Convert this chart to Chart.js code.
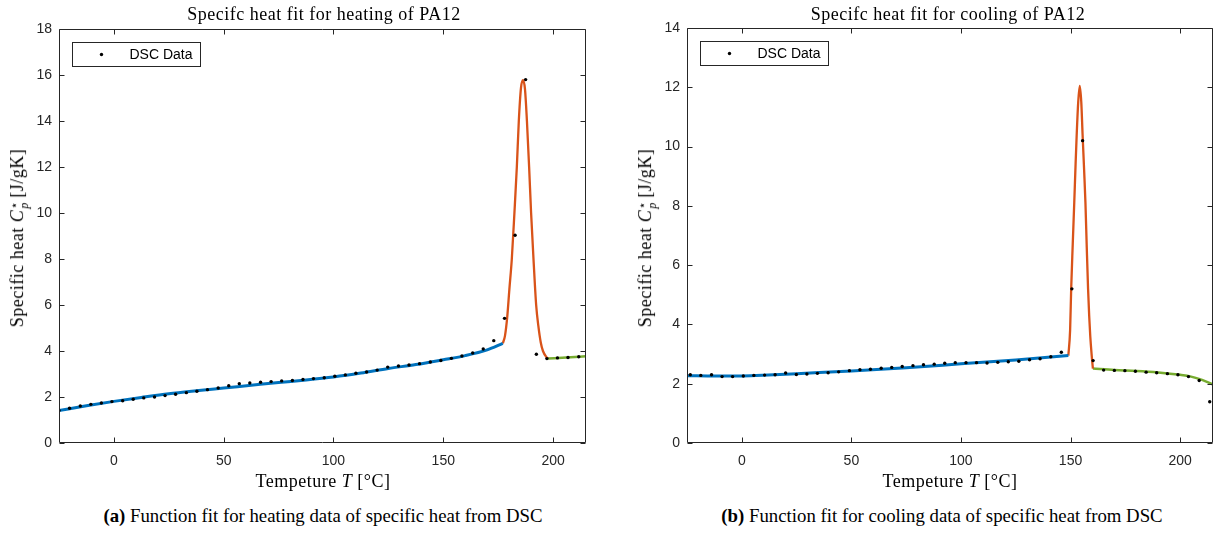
<!DOCTYPE html>
<html>
<head>
<meta charset="utf-8">
<script src="https://cdn.jsdelivr.net/npm/chart.js@4.4.0/dist/chart.umd.min.js"></script>
<style>
  body { margin:0; width:1217px; height:533px; position:relative; background:#fff; overflow:hidden; }
  .panel { position:absolute; top:0; height:500px; }
  .ttl, .xlab, .ylab { position:absolute; font-family:"Liberation Serif", "DejaVu Serif", serif; font-size:18px; letter-spacing:0.5px; color:#000; white-space:nowrap; transform:translate(-50%,-50%); }
  .ylab { transform:translate(-50%,-50%) rotate(-90deg); }
  .ss { display:inline-flex; flex-direction:column; vertical-align:middle; font-size:12px; line-height:10px; margin-left:1px; margin-right:3px; letter-spacing:0; }
  .ss .sub { font-style:italic; }
  .cap { position:absolute; top:516px; font-family:"Liberation Serif", "Times New Roman", serif; font-size:18.8px; color:#000; white-space:nowrap; transform:translate(-50%,-50%); }
</style>
</head>
<body>
<div class="panel" style="left:0;width:600px"><canvas id="heatChart" width="600" height="500"></canvas></div>
<div class="panel" style="left:610px;width:607px"><canvas id="coolChart" width="607" height="500"></canvas></div>

<div class="ttl" style="left:324px;top:14px">Specifc heat fit for heating of PA12</div>
<div class="ttl" style="left:948px;top:14px">Specifc heat fit for cooling of PA12</div>
<div class="xlab" style="left:323px;top:481px">Tempeture <i>T</i> [°C]</div>
<div class="xlab" style="left:950px;top:481px">Tempeture <i>T</i> [°C]</div>
<div class="ylab" style="left:18px;top:238px">Specific heat <i>C</i><span class="ss"><span>⋆</span><span class="sub">p</span></span>[J/gK]</div>
<div class="ylab" style="left:646px;top:238px">Specific heat <i>C</i><span class="ss"><span>⋆</span><span class="sub">p</span></span>[J/gK]</div>
<div class="cap" style="left:323px"><b>(a)</b> Function fit for heating data of specific heat from DSC</div>
<div class="cap" style="left:942px"><b>(b)</b> Function fit for cooling data of specific heat from DSC</div>

<script>
// ---- data ----
// Heating: DSC measurements
const heatT = [-25.0, -20.2, -15.3, -10.5, -5.7, -0.9, 4.0, 8.8, 13.6, 18.5, 23.3, 28.1, 33.0, 37.8, 42.6,
  47.5, 52.3, 57.1, 61.9, 66.8, 71.6, 76.4, 81.3, 86.1, 90.9, 95.8, 100.6, 105.4, 110.2, 115.1, 119.9,
  124.7, 129.6, 134.4, 139.2, 144.1, 148.9, 153.7, 158.5, 163.4, 168.2, 173.0, 177.9, 182.7, 187.5,
  192.4, 197.2, 202.0, 206.8, 211.7];
const heatCp = [1.41, 1.51, 1.61, 1.68, 1.74, 1.80, 1.84, 1.90, 1.96, 2.00, 2.06, 2.12, 2.19, 2.25, 2.32,
  2.39, 2.49, 2.58, 2.61, 2.64, 2.67, 2.70, 2.72, 2.76, 2.80, 2.84, 2.90, 2.96, 3.03, 3.09, 3.17,
  3.30, 3.35, 3.39, 3.45, 3.52, 3.59, 3.68, 3.78, 3.91, 4.09, 4.45, 5.42, 9.03, 15.80,
  3.86, 3.67, 3.70, 3.72, 3.75];
// Heating: fitted pieces
const heatFitLowT  = [-25, -12.5, 0, 12.5, 25, 37.5, 50, 62.5, 75, 87.5, 100, 112.5, 125, 137.5, 150, 160, 170, 177.1];
const heatFitLowCp = [1.41, 1.62, 1.81, 1.98, 2.14, 2.27, 2.39, 2.51, 2.63, 2.74, 2.87, 3.04, 3.24, 3.41, 3.62, 3.80, 4.05, 4.33];
const heatPeakT  = [177.1, 178.1, 179.1, 180.1, 181.2, 182.4, 183.5, 184.4, 185.4, 186.3, 187.2, 188.1, 189.1, 190.0, 191.1, 192.3, 193.3, 194.4, 195.4, 197.1, 197.7];
const heatPeakCp = [4.33, 4.66, 5.45, 6.68, 7.98, 10.0, 12.0, 14.0, 15.45, 15.78, 15.4, 14.0, 12.0, 10.0, 7.98, 6.0, 5.09, 4.37, 4.0, 3.72, 3.67];
const heatFitHighT  = [197.7, 206, 215];
const heatFitHighCp = [3.67, 3.72, 3.77];

// Cooling: DSC measurements
const coolT = [-23.5, -18.7, -13.8, -9.0, -4.2, 0.7, 5.5, 10.4, 15.2, 20.0, 24.9, 29.7, 34.5, 39.4, 44.2,
  49.1, 53.9, 58.7, 63.6, 68.4, 73.2, 78.1, 82.9, 87.8, 92.6, 97.4, 102.3, 107.1, 111.9, 116.8, 121.6,
  126.4, 131.3, 136.1, 141.0, 145.8, 150.6, 155.5, 160.3, 165.1, 170.0, 174.8, 179.6, 184.5, 189.3,
  194.2, 199.0, 203.8, 208.7, 213.5];
const coolCp = [2.30, 2.28, 2.30, 2.24, 2.24, 2.26, 2.28, 2.29, 2.30, 2.36, 2.31, 2.33, 2.35, 2.37, 2.40,
  2.44, 2.47, 2.49, 2.52, 2.55, 2.58, 2.61, 2.64, 2.66, 2.69, 2.71, 2.71, 2.71, 2.70, 2.72, 2.74,
  2.76, 2.81, 2.84, 2.91, 3.06, 5.20, 10.20, 2.78, 2.46, 2.45, 2.44, 2.42, 2.39, 2.37,
  2.34, 2.30, 2.24, 2.11, 1.39];
// Cooling: fitted pieces
const coolFitLowT  = [-25, -12, 0, 12, 25, 50, 75, 100, 125, 149.0];
const coolFitLowCp = [2.27, 2.26, 2.26, 2.29, 2.34, 2.43, 2.54, 2.67, 2.80, 2.95];
const coolPeakT  = [149.0, 149.8, 150.3, 151.0, 151.7, 152.3, 152.8, 153.5, 154.2, 154.9, 155.5, 156.2, 156.8, 157.4, 158.0, 158.5, 159.0, 159.6, 160.2];
const coolPeakCp = [2.95, 3.8, 5.22, 6.7, 8.12, 9.4, 10.38, 11.5, 12.05, 11.5, 10.4, 9.2, 8.1, 6.6, 5.2, 4.3, 3.6, 3.0, 2.51];
const coolFitHighT  = [160.2, 170, 180, 190, 200, 205, 210, 215];
const coolFitHighCp = [2.51, 2.46, 2.43, 2.38, 2.30, 2.24, 2.13, 1.97];

// axes
const xTicks = [0, 50, 100, 150, 200];
const heatYTicks = [0, 2, 4, 6, 8, 10, 12, 14, 16, 18];
const coolYTicks = [0, 2, 4, 6, 8, 10, 12, 14];
const legendLabel = 'DSC Data';

// ---- helpers ----
function pts(xs, ys) { return xs.map((x, i) => ({ x: x, y: ys[i] })); }
const AX = '#262626';

// MATLAB-like box with inward ticks and a small legend
const matlabAxes = {
  id: 'matlabAxes',
  afterDraw(chart) {
    const { ctx, chartArea: a, scales: { x, y } } = chart;
    const L = Math.round(a.left) + 0.5, R = Math.round(a.right) - 0.5;
    const T = Math.round(a.top) + 0.5, B = Math.round(a.bottom) - 0.5;
    ctx.save();
    ctx.strokeStyle = AX; ctx.lineWidth = 1;
    ctx.beginPath();
    ctx.rect(L, T, R - L, B - T);
    const tl = 5;
    for (const t of x.ticks) {
      const px = Math.round(x.getPixelForValue(t.value)) + 0.5;
      ctx.moveTo(px, B); ctx.lineTo(px, B - tl);
      ctx.moveTo(px, T); ctx.lineTo(px, T + tl);
    }
    for (const t of y.ticks) {
      const py = Math.round(y.getPixelForValue(t.value)) + 0.5;
      ctx.moveTo(L, py); ctx.lineTo(L + tl, py);
      ctx.moveTo(R, py); ctx.lineTo(R - tl, py);
    }
    ctx.stroke();

    // legend
    const bx = L + 13, by = T + 13, bw = 128, bh = 24;
    ctx.fillStyle = '#fff';
    ctx.fillRect(bx, by, bw, bh);
    ctx.strokeRect(bx, by, bw, bh);
    ctx.fillStyle = '#000';
    ctx.beginPath();
    ctx.arc(bx + 29, by + bh / 2, 1.7, 0, Math.PI * 2);
    ctx.fill();
    ctx.font = '14px "Liberation Sans", Arial, sans-serif';
    ctx.textBaseline = 'middle';
    ctx.fillText(chart.data.datasets[0].label, bx + 57, by + bh / 2 + 1);
    ctx.restore();
  }
};

function makeChart(id, cfg) {
  return new Chart(document.getElementById(id).getContext('2d'), {
    type: 'scatter',
    data: {
      datasets: [
        { label: legendLabel, data: pts(cfg.t, cfg.cp), showLine: false, pointRadius: 1.7,
          pointBackgroundColor: '#000', pointBorderWidth: 0 },
        { label: 'fit low', data: pts(cfg.lowT, cfg.lowCp), showLine: true, borderColor: '#0072BD',
          borderWidth: 3, pointRadius: 0, cubicInterpolationMode: 'monotone' },
        { label: 'fit peak', data: pts(cfg.peakT, cfg.peakCp), showLine: true, borderColor: '#D95319',
          borderWidth: 2.3, pointRadius: 0, cubicInterpolationMode: 'monotone' },
        { label: 'fit high', data: pts(cfg.highT, cfg.highCp), showLine: true, borderColor: '#77AC30',
          borderWidth: 2.5, pointRadius: 0, cubicInterpolationMode: 'monotone' }
      ]
    },
    options: {
      responsive: false, animation: false, events: [],
      layout: { padding: { top: cfg.top, right: cfg.right, bottom: 0, left: 0 } },
      plugins: { legend: { display: false }, tooltip: { enabled: false } },
      scales: {
        x: {
          type: 'linear', min: -25, max: 215,
          afterBuildTicks: s => { s.ticks = xTicks.map(v => ({ value: v })); },
          afterFit: s => { s.height = 500 - 443; },
          grid: { display: false, drawTicks: false }, border: { display: false },
          ticks: { color: AX, padding: 10, font: { family: 'Liberation Sans', size: 14 }, maxRotation: 0 }
        },
        y: {
          type: 'linear', min: 0, max: cfg.ymax,
          afterBuildTicks: s => { s.ticks = cfg.yTicks.map(v => ({ value: v })); },
          afterFit: s => { s.width = cfg.left; },
          grid: { display: false, drawTicks: false }, border: { display: false },
          ticks: { color: AX, padding: 7, font: { family: 'Liberation Sans', size: 14 } }
        }
      }
    },
    plugins: [matlabAxes]
  });
}

makeChart('heatChart', {
  t: heatT, cp: heatCp, lowT: heatFitLowT, lowCp: heatFitLowCp,
  peakT: heatPeakT, peakCp: heatPeakCp, highT: heatFitHighT, highCp: heatFitHighCp,
  ymax: 18, yTicks: heatYTicks, top: 29, right: 14, left: 59
});
makeChart('coolChart', {
  t: coolT, cp: coolCp, lowT: coolFitLowT, lowCp: coolFitLowCp,
  peakT: coolPeakT, peakCp: coolPeakCp, highT: coolFitHighT, highCp: coolFitHighCp,
  ymax: 14, yTicks: coolYTicks, top: 28, right: 4, left: 77
});
</script>
</body>
</html>
